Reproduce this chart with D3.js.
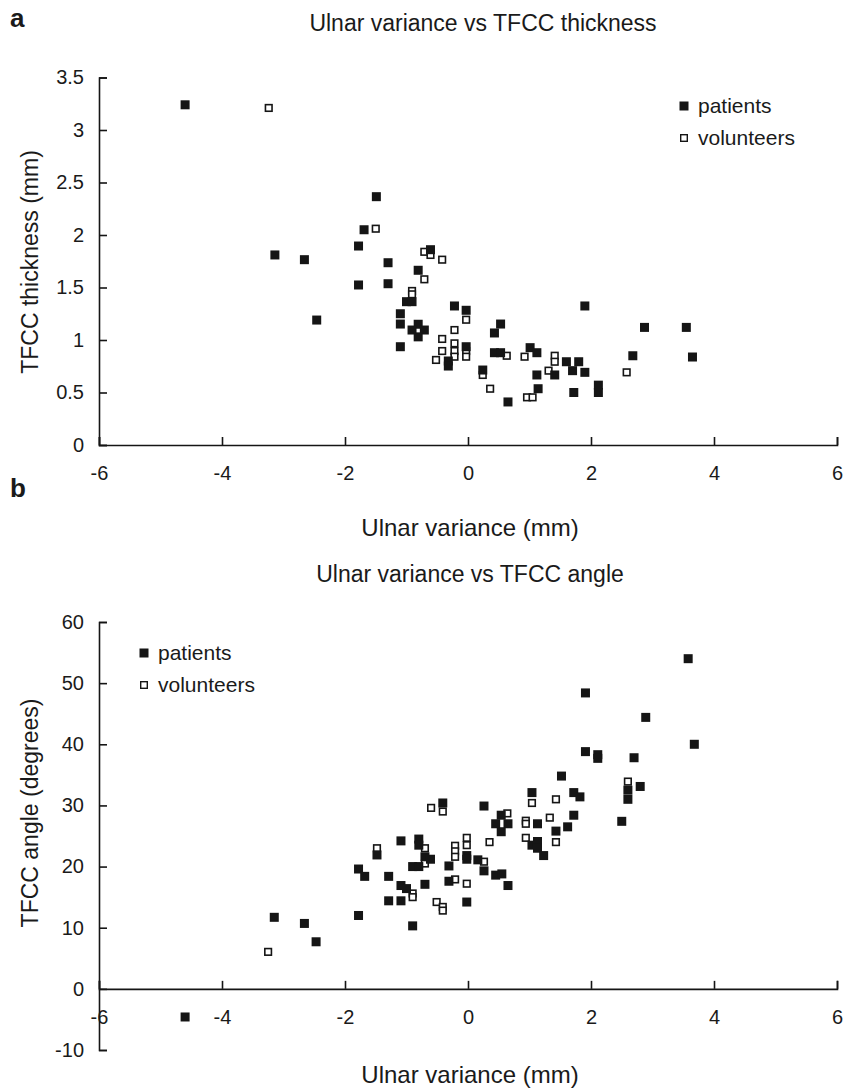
<!DOCTYPE html>
<html>
<head>
<meta charset="utf-8">
<script src="https://cdn.jsdelivr.net/npm/d3@7"></script>
<style>
  body { margin: 0; background: #fff; }
  text { font-family: "Liberation Sans", Arial, sans-serif; fill: #1a1a1a; }
</style>
</head>
<body>
<script>
const width = 856;
const height = 1091;

const xTicks = [-6, -4, -2, 0, 2, 4, 6];
const thickTicks = [0, 0.5, 1, 1.5, 2, 2.5, 3, 3.5];
const angleTicks = [-10, 0, 10, 20, 30, 40, 50, 60];
const seriesNames = ['patients', 'volunteers'];

// panel a: ulnar variance (mm) vs TFCC thickness (mm)
const thickPatients = [
  [-4.6, 3.24], [-3.14, 1.81], [-2.66, 1.765], [-2.46, 1.19], [-1.78, 1.895], [-1.78, 1.524],
  [-1.69, 2.05], [-1.49, 2.365], [-1.3, 1.736], [-1.3, 1.536], [-1.1, 1.25], [-1.1, 1.152],
  [-1.1, 0.936], [-1.0, 1.365], [-0.91, 1.365], [-0.81, 1.664], [-0.61, 1.86], [-0.81, 1.15],
  [-0.91, 1.095], [-0.71, 1.095], [-0.81, 1.03], [-0.32, 0.8], [-0.32, 0.752], [-0.22, 1.324],
  [-0.03, 1.283], [-0.03, 0.936], [0.24, 0.714], [0.43, 1.067], [0.53, 1.152], [0.43, 0.879],
  [0.53, 0.879], [0.65, 0.41], [1.01, 0.927], [1.12, 0.879], [1.12, 0.667], [1.14, 0.536],
  [1.41, 0.667], [1.6, 0.793], [1.7, 0.708], [1.72, 0.5], [1.8, 0.793], [1.9, 0.692],
  [1.9, 1.324], [2.12, 0.57], [2.12, 0.5], [2.68, 0.85], [2.87, 1.12], [3.55, 1.12], [3.65, 0.838]
];
const thickVolunteers = [
  [-3.24, 3.21], [-1.5, 2.06], [-0.71, 1.84], [-0.61, 1.81], [-0.42, 1.765], [-0.71, 1.578],
  [-0.91, 1.467], [-0.91, 1.435], [-0.03, 1.193], [-0.22, 1.095], [-0.42, 1.01], [-0.22, 0.968],
  [-0.42, 0.895], [-0.22, 0.895], [-0.03, 0.895], [-0.22, 0.841], [-0.03, 0.841], [-0.52, 0.81],
  [0.24, 0.667], [0.36, 0.536], [0.63, 0.85], [0.92, 0.841], [0.96, 0.454], [1.05, 0.454],
  [1.41, 0.85], [1.41, 0.793], [1.31, 0.708], [2.58, 0.692]
];

// panel b: ulnar variance (mm) vs TFCC angle (degrees)
const anglePatients = [
  [-4.6, -4.6], [-3.15, 11.7], [-2.66, 10.7], [-2.47, 7.7], [-1.78, 12.0], [-1.78, 19.6],
  [-1.68, 18.4], [-1.48, 21.9], [-1.29, 18.4], [-1.29, 14.4], [-1.09, 24.2], [-1.09, 16.9],
  [-1.0, 16.4], [-1.09, 14.4], [-0.9, 10.3], [-0.8, 24.5], [-0.8, 23.5], [-0.7, 21.6],
  [-0.61, 21.2], [-0.9, 20.0], [-0.8, 20.0], [-0.7, 17.1], [-0.41, 30.4], [-0.31, 20.1],
  [-0.31, 17.6], [-0.02, 21.8], [-0.02, 21.2], [-0.02, 14.2], [0.16, 21.1], [0.26, 19.3],
  [0.26, 29.9], [0.45, 18.6], [0.55, 18.8], [0.65, 16.9], [0.54, 28.4], [0.45, 27.0],
  [0.65, 27.0], [0.54, 25.7], [1.04, 32.1], [1.13, 27.0], [1.04, 23.5], [1.13, 24.1],
  [1.13, 23.0], [1.23, 21.8], [1.43, 25.8], [1.52, 34.8], [1.62, 26.5], [1.72, 32.1],
  [1.82, 31.4], [1.72, 28.4], [1.91, 48.4], [1.91, 38.8], [2.11, 38.3], [2.11, 37.7],
  [2.5, 27.4], [2.6, 32.5], [2.6, 31.0], [2.7, 37.8], [2.8, 33.1], [2.89, 44.4],
  [3.58, 54.0], [3.68, 40.0]
];
const angleVolunteers = [
  [-3.25, 6.05], [-1.48, 23.0], [-0.9, 15.6], [-0.9, 15.0], [-0.7, 23.0], [-0.7, 20.5],
  [-0.51, 14.2], [-0.41, 13.4], [-0.41, 12.8], [-0.6, 29.6], [-0.41, 29.0], [-0.21, 23.4],
  [-0.21, 22.5], [-0.21, 21.6], [-0.21, 17.9], [-0.02, 24.7], [-0.02, 23.5], [-0.02, 17.2],
  [0.26, 20.8], [0.35, 24.0], [0.64, 28.7], [0.94, 27.5], [0.94, 27.0], [0.94, 24.7],
  [1.04, 30.4], [1.33, 28.0], [1.43, 31.0], [1.43, 24.0], [2.6, 33.9]
];

const ink = '#151515';
const svg = d3.select('body').append('svg')
    .attr('width', width)
    .attr('height', height);

const x = d3.scaleLinear().domain([-6, 6]).range([99, 837]);

function drawPanel (p) {
  const y = d3.scaleLinear().domain(p.yDomain).range(p.yRange);
  const g = svg.append('g');

  g.append('text')
      .attr('x', 10).attr('y', p.letterY)
      .style('font-size', '26px').style('font-weight', 'bold')
      .text(p.letter);

  g.append('text')
      .attr('x', p.titleX).attr('y', p.titleY)
      .attr('text-anchor', 'middle')
      .style('font-size', '23px')
      .text(p.title);

  const xAxis = g.append('g')
      .attr('transform', `translate(0,${y(0)})`)
      .call(d3.axisBottom(x).tickValues(xTicks).tickFormat(String)
        .tickSizeInner(-8).tickSizeOuter(-8).tickPadding(21));

  const yAxis = g.append('g')
      .attr('transform', `translate(${x(-6)},0)`)
      .call(d3.axisLeft(y).tickValues(p.yTicks).tickFormat(String)
        .tickSizeInner(-8).tickSizeOuter(-8).tickPadding(15));

  [xAxis, yAxis].forEach((a) => {
    a.selectAll('path, line').attr('stroke', ink).attr('stroke-width', 1.6);
    a.selectAll('text').style('font-size', '20px').attr('fill', '#1a1a1a')
        .style('font-family', '"Liberation Sans", Arial, sans-serif');
  });

  g.append('text')
      .attr('x', 470).attr('y', p.xTitleY)
      .attr('text-anchor', 'middle')
      .style('font-size', '24px')
      .text('Ulnar variance (mm)');

  g.append('text')
      .attr('transform', `translate(38,${p.yTitleMid}) rotate(-90)`)
      .attr('text-anchor', 'middle')
      .style('font-size', '23px')
      .text(p.yTitle);

  // volunteers first, patients drawn over them
  g.append('g').selectAll('rect')
    .data(p.volunteers)
    .join('rect')
      .attr('x', (d) => x(d[0]) - 3.3)
      .attr('y', (d) => y(d[1]) - 3.3)
      .attr('width', 6.6).attr('height', 6.6)
      .attr('fill', '#fff').attr('stroke', ink).attr('stroke-width', 1.6);

  g.append('g').selectAll('rect')
    .data(p.patients)
    .join('rect')
      .attr('x', (d) => x(d[0]) - 4.5)
      .attr('y', (d) => y(d[1]) - 4.5)
      .attr('width', 9).attr('height', 9)
      .attr('fill', ink);

  const legend = g.append('g')
      .attr('transform', `translate(${p.legendX},${p.legendY})`);
  seriesNames.forEach((name, i) => {
    const row = legend.append('g').attr('transform', `translate(0,${i * 32})`);
    if (i === 0) {
      row.append('rect').attr('x', -4.5).attr('y', -4.5).attr('width', 9).attr('height', 9)
          .attr('fill', ink);
    } else {
      row.append('rect').attr('x', -3.3).attr('y', -3.3).attr('width', 6.6).attr('height', 6.6)
          .attr('fill', '#fff').attr('stroke', ink).attr('stroke-width', 1.4);
    }
    row.append('text')
        .attr('x', 14).attr('y', 7)
        .style('font-size', '21px')
        .text(name);
  });
}

drawPanel({
  letter: 'a', letterY: 27,
  title: 'Ulnar variance vs TFCC thickness', titleX: 483, titleY: 31,
  yDomain: [0, 3.5], yRange: [445, 77.5], yTicks: thickTicks,
  yTitle: 'TFCC thickness (mm)', yTitleMid: 262, xTitleY: 536,
  patients: thickPatients, volunteers: thickVolunteers,
  legendX: 684, legendY: 106
});

drawPanel({
  letter: 'b', letterY: 497,
  title: 'Ulnar variance vs TFCC angle', titleX: 470, titleY: 582,
  yDomain: [-10, 60], yRange: [1050, 622], yTicks: angleTicks,
  yTitle: 'TFCC angle (degrees)', yTitleMid: 813, xTitleY: 1083,
  patients: anglePatients, volunteers: angleVolunteers,
  legendX: 144, legendY: 653
});
</script>
</body>
</html>
